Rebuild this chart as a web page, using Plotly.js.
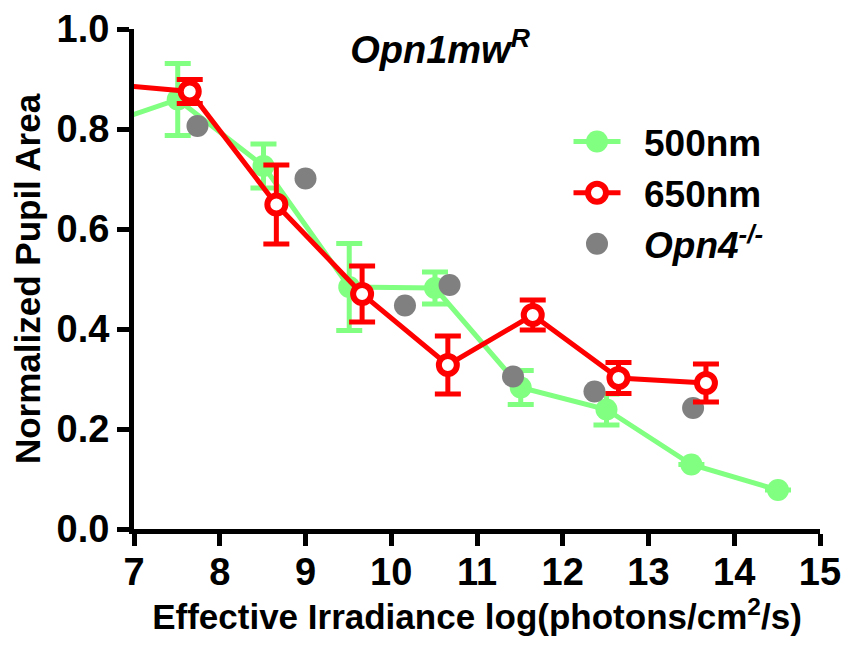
<!DOCTYPE html>
<html>
<head>
<meta charset="utf-8">
<script src="https://cdn.plot.ly/plotly-3.0.1.min.js"></script>
<style>html,body{margin:0;padding:0;background:#fff;}#chart{width:848px;height:649px;}</style>
</head>
<body>
<div id="chart"></div>
<script>
// 500 nm (green) series
const greenX   = [6.5, 7.51, 8.51, 9.51, 10.51, 11.51, 12.51, 13.5, 14.51];
const greenY   = [0.80, 0.859, 0.726, 0.484, 0.482, 0.283, 0.239, 0.129, 0.078];
const greenErr = [null, 0.072, 0.044, 0.087, 0.032, 0.034, 0.031, null, null];

// 650 nm (red) series
const redX   = [6.66, 7.65, 8.66, 9.66, 10.66, 11.65, 12.65, 13.67];
const redY   = [0.89, 0.875, 0.649, 0.470, 0.328, 0.428, 0.302, 0.292];
const redErr = [null, 0.024, 0.079, 0.056, 0.058, 0.030, 0.031, 0.038];

// Opn4-/- (gray) points
const grayX = [7.74, 9.0, 10.16, 10.68, 11.42, 12.37, 13.52];
const grayY = [0.806, 0.701, 0.447, 0.488, 0.305, 0.275, 0.242];

const xTicks = [7, 8, 9, 10, 11, 12, 13, 14, 15];
const yTicks = [0, 0.2, 0.4, 0.6, 0.8, 1.0];
const yTickText = ["0.0", "0.2", "0.4", "0.6", "0.8", "1.0"];

const FONT = "Liberation Sans, Arial, Helvetica, sans-serif";
const GREEN = "#80ff80", RED = "#ff0000", GRAY = "#808080";

const traces = [
  {
    x: greenX, y: greenY, name: "500nm", legendrank: 1,
    type: "scatter", mode: "lines+markers",
    line: {color: GREEN, width: 5},
    marker: {color: GREEN, size: 22},
    error_y: {type: "data", array: greenErr, visible: true, color: GREEN, thickness: 5, width: 13}
  },
  {
    x: grayX, y: grayY, name: "<i>Opn4<sup>-/-</sup></i>", legendrank: 3,
    type: "scatter", mode: "markers",
    marker: {color: GRAY, size: 22}
  },
  {
    x: redX, y: redY, name: "650nm", legendrank: 2,
    type: "scatter", mode: "lines+markers",
    line: {color: RED, width: 5},
    marker: {color: "#ffffff", size: 18, line: {color: RED, width: 6}},
    error_y: {type: "data", array: redErr, visible: true, color: RED, thickness: 5, width: 13}
  }
];

const PL = 134, PR = 820;
const layout = {
  width: 848, height: 649,
  margin: {l: PL, r: 848 - PR, t: 29, b: 120, autoexpand: false},
  paper_bgcolor: "#ffffff", plot_bgcolor: "#ffffff",
  font: {family: FONT, color: "#000", weight: 700},
  title: {
    text: "Opn1mw<sup>R</sup>",
    font: {family: FONT, size: 38, weight: 700, style: "italic", color: "#000"},
    x: 440 / 848, xref: "container", xanchor: "center",
    y: 1 - 50 / 649, yref: "container", yanchor: "middle"
  },
  xaxis: {
    range: [7, 15], tickvals: xTicks, ticktext: xTicks.map(String),
    showgrid: false, zeroline: false,
    showline: true, linecolor: "#000", linewidth: 5,
    ticks: "outside", ticklen: 12, tickwidth: 5, tickcolor: "#000",
    ticklabelstandoff: -7,
    tickfont: {family: FONT, size: 38, weight: 700, color: "#000"},
    title: {
      text: "Effective Irradiance log(photons/cm<sup>2</sup>/s)",
      font: {family: FONT, size: 35, weight: 700, color: "#000"},
      standoff: 7
    }
  },
  yaxis: {
    range: [0, 1], tickvals: yTicks, ticktext: yTickText,
    showgrid: false, zeroline: false,
    showline: true, linecolor: "#000", linewidth: 5,
    ticks: "outside", ticklen: 12, tickwidth: 5, tickcolor: "#000",
    tickfont: {family: FONT, size: 38, weight: 700, color: "#000"},
    title: {
      text: "Normalized Pupil Area",
      font: {family: FONT, size: 35, weight: 700, color: "#000"},
      standoff: 7
    }
  },
  showlegend: true,
  legend: {
    x: (550 - PL) / (PR - PL), xref: "paper", xanchor: "left",
    y: 1 - (111 - 29) / (649 - 29 - 120), yref: "paper", yanchor: "top",
    bgcolor: "rgba(0,0,0,0)", borderwidth: 0,
    font: {family: FONT, size: 37, weight: 700, color: "#000"},
    itemwidth: 84,
    traceorder: "normal"
  }
};

function circ(r) {
  return "M" + r + ",0A" + r + "," + r + " 0 1,1 0,-" + r + "A" + r + "," + r + " 0 0,1 " + r + ",0Z";
}

Plotly.newPlot("chart", traces, layout, {displayModeBar: false, staticPlot: true}).then(function (gd) {
  // restyle legend symbols: marker size as plotted, shorter line segment around the marker
  gd.querySelectorAll(".legend .traces").forEach(function (g) {
    var d = g.__data__ && g.__data__[0];
    if (!d || !d.trace) return;
    var tr = d.trace;
    var cx = null;
    g.querySelectorAll(".legendpoints path.scatterpts").forEach(function (p) {
      var m = /translate\(\s*([-\d.]+)/.exec(p.getAttribute("transform") || "");
      if (m) cx = parseFloat(m[1]);
      var size = tr.marker.size, lw = (tr.marker.line && tr.marker.line.width) || 0;
      p.setAttribute("d", circ(size / 2));
      if (lw) p.style.strokeWidth = lw + "px";
    });
    if (cx !== null) {
      g.querySelectorAll(".legendlines path").forEach(function (p) {
        p.setAttribute("d", "M" + (cx - 23.5) + ",0h47");
      });
    }
  });
});
</script>
</body>
</html>
